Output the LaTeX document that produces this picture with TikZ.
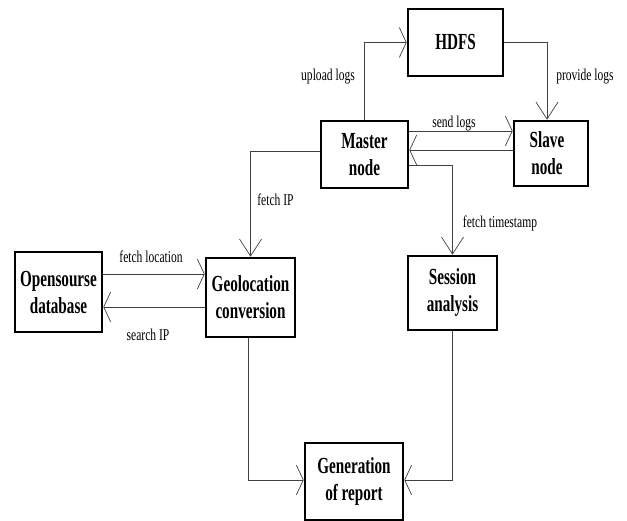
\documentclass[tikz,border=0pt]{standalone}
\usepackage{fontspec}
\setmainfont{Liberation Serif}
\newfontfamily\boxfont[FakeStretch=0.66]{Liberation Serif}
\newfontfamily\labfont[FakeStretch=0.7]{Liberation Serif}
\usetikzlibrary{arrows.meta}
\begin{document}
\begin{tikzpicture}[x=1pt,y=-1pt,
  box/.style={draw=black,line width=2.6pt,inner sep=0pt,
    font=\boxfont\bfseries\fontsize{23}{27}\selectfont,align=center},
  lab/.style={font=\labfont\fontsize{16.5}{18}\selectfont,inner sep=0pt},
  conn/.style={draw=black!75,line width=0.9pt},
  harr/.style={conn,-{Straight Barb[length=7pt,width=30pt,line width=0.7pt]}},
  varr/.style={conn,-{Straight Barb[length=17pt,width=22pt,line width=0.7pt]}}]
\useasboundingbox (0,0) rectangle (627,521);
% boxes
\node[box,minimum width=95pt,minimum height=67pt] (hdfs) at (455.5,42.5) {HDFS};
\node[box,minimum width=87pt,minimum height=67pt] (master) at (364.5,154.5) {Master\\node};
\node[box,minimum width=74pt,minimum height=65pt] (slave) at (551,153.5) {\hspace*{-8pt}Slave\\\hspace*{-8pt}node};
\node[box,minimum width=87pt,minimum height=80pt] (open) at (58.5,292) {Opensourse\\database};
\node[box,minimum width=89pt,minimum height=79pt] (geo) at (250.5,297.5) {Geolocation\\conversion};
\node[box,minimum width=89pt,minimum height=74pt] (sess) at (452.5,293) {Session\\analysis};
\node[box,minimum width=98pt,minimum height=77pt] (gen) at (354,481.5) {Generation\\of report};
% connectors
\draw[harr] (master.north) |- (hdfs.west);
\draw[varr] (hdfs.east) -| ([xshift=-4pt]slave.north);
\draw[harr] (master.east |- 0,131) -- (slave.west |- 0,131);
\draw[harr] (slave.west |- 0,150) -- (master.east |- 0,150);
\draw[varr] (master.east |- 0,165) -| (sess.north);
\draw[varr] (master.west |- 0,151) -| (geo.north);
\draw[harr] (open.east |- 0,274) -- (geo.west |- 0,274);
\draw[harr] (geo.west |- 0,307) -- (open.east |- 0,307);
\draw[harr] ([xshift=-2.5pt]geo.south) |- ([yshift=1.5pt]gen.west);
\draw[harr] (sess.south) |- ([yshift=1.5pt]gen.east);
% labels
\node[lab] (l1) at (328,77) {upload logs};
\node[lab] (l2) at (585,77) {provide logs};
\node[lab] (l3) at (454,124) {send logs};
\node[lab] (l4) at (275.5,200) {fetch IP};
\node[lab] (l5) at (500,223) {fetch timestamp};
\node[lab] (l6) at (151,257) {fetch location};
\node[lab] (l7) at (148,335) {search IP};
\end{tikzpicture}
\end{document}
